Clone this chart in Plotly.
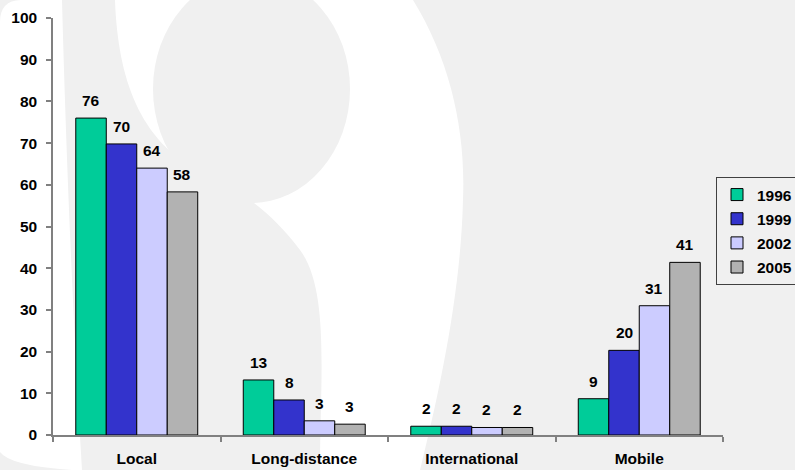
import plotly.graph_objects as go

categories = ["Local", "Long-distance", "International", "Mobile"]
years = ["1996", "1999", "2002", "2005"]
values_1996 = [76.0, 13.2, 2.1, 8.7]
values_1999 = [69.8, 8.4, 2.1, 20.3]
values_2002 = [64.0, 3.4, 1.8, 31.0]
values_2005 = [58.3, 2.6, 1.8, 41.4]
series = [values_1996, values_1999, values_2002, values_2005]
colors = ["#00CC99", "#3333CC", "#CCCCFF", "#B2B2B2"]
y_ticks = list(range(0, 101, 10))

W, H = 795, 470
ML, MR, MT, MB = 53, 72, 18, 35
PW, PH = W - ML - MR, H - MT - MB
BG = "#f0f0f0"
FONT = "Liberation Sans, Arial, sans-serif"
FS = 15.5
BARGAP = 0.272


def px(x, y):
    return (x - ML) / PW, (H - MB - y) / PH


def path(cmds):
    out = []
    for c in cmds:
        if isinstance(c, str):
            out.append(c)
        else:
            X, Y = px(*c)
            out.append(f"{X:.4f},{Y:.4f}")
    return " ".join(out)


fig = go.Figure()
for i, (yr, vals, col) in enumerate(zip(years, series, colors)):
    fig.add_trace(go.Bar(
        x=categories, y=vals, name=yr, legendgroup=yr,
        marker=dict(color=col, line=dict(color="#000000", width=1)),
        hoverinfo="skip",
    ))

# data labels above bars
n = len(series)
w = (1 - BARGAP) / n
annotations = []
for j, vals in enumerate(series):
    for i, v in enumerate(vals):
        annotations.append(dict(
            x=i + (j - (n - 1) / 2) * w, y=v, xref="x", yref="y",
            text=f"{v:.0f}", showarrow=False, yanchor="bottom", yshift=7,
            font=dict(family=FONT, size=FS, color="#000000", weight="bold"),
        ))

# background watermark
shapes = [
    dict(type="path", xref="paper", yref="paper", layer="below",
         fillcolor="#ffffff", line=dict(width=0),
         path=path(["M", (0, 22), "Q", (0, 0), (22, 0), "L", (62, 0),
                    "C", (66, 150), (72, 300), (82, 470), "L", (72, 470),
                    "Q", (10, 466), (0, 452), "Z"])),
    dict(type="path", xref="paper", yref="paper", layer="below",
         fillcolor="#ffffff", line=dict(width=0),
         path=path(["M", (115, 0), "L", (413, 0),
                    "C", (450, 60), (466, 130), (463, 200),
                    "C", (461, 290), (440, 390), (420, 470),
                    "L", (320, 470),
                    "C", (320, 380), (330, 290), (300, 250),
                    "C", (270, 210), (240, 190), (200, 172),
                    "C", (140, 140), (118, 80), (115, 0), "Z"])),
    dict(type="circle", xref="paper", yref="paper", layer="below",
         fillcolor=BG, line=dict(width=0),
         x0=px(153, 0)[0], x1=px(350, 0)[0],
         y0=px(0, 203)[1], y1=px(0, -25)[1]),
]

fig.update_layout(
    width=W, height=H,
    margin=dict(l=ML, r=MR, t=MT, b=MB, autoexpand=False),
    paper_bgcolor=BG, plot_bgcolor="rgba(0,0,0,0)",
    barmode="group", bargap=BARGAP, bargroupgap=0,
    font=dict(family=FONT, size=FS, color="#000000", weight="bold"),
    showlegend=True,
    legend=dict(
        xref="container", yref="container",
        x=716 / W, xanchor="left", y=1 - 177 / H, yanchor="top",
        bgcolor=BG, bordercolor="#404040", borderwidth=1,
        font=dict(family=FONT, size=FS, color="#000000", weight="bold"),
        tracegroupgap=1, itemwidth=30,
    ),
    xaxis=dict(
        type="category", range=[-0.5, len(categories) - 0.5],
        showline=True, linecolor="#808080", linewidth=1.5,
        ticks="outside", tickson="boundaries", ticklen=5, tickcolor="#808080",
        tickwidth=1.5, showgrid=False, zeroline=False, fixedrange=True,
        tickfont=dict(family=FONT, size=FS, color="#000000", weight="bold"),
        ticklabelstandoff=9,
    ),
    yaxis=dict(
        range=[0, 100], tickvals=y_ticks,
        showline=True, linecolor="#808080", linewidth=1.5,
        ticks="outside", ticklen=5, tickcolor="#808080", tickwidth=1.5,
        showgrid=False, zeroline=False, fixedrange=True,
        tickfont=dict(family=FONT, size=FS, color="#000000", weight="bold"),
        ticklabelstandoff=6,
    ),
    annotations=annotations,
    shapes=shapes,
)

fig.write_html("out.html", config={"displayModeBar": False})
